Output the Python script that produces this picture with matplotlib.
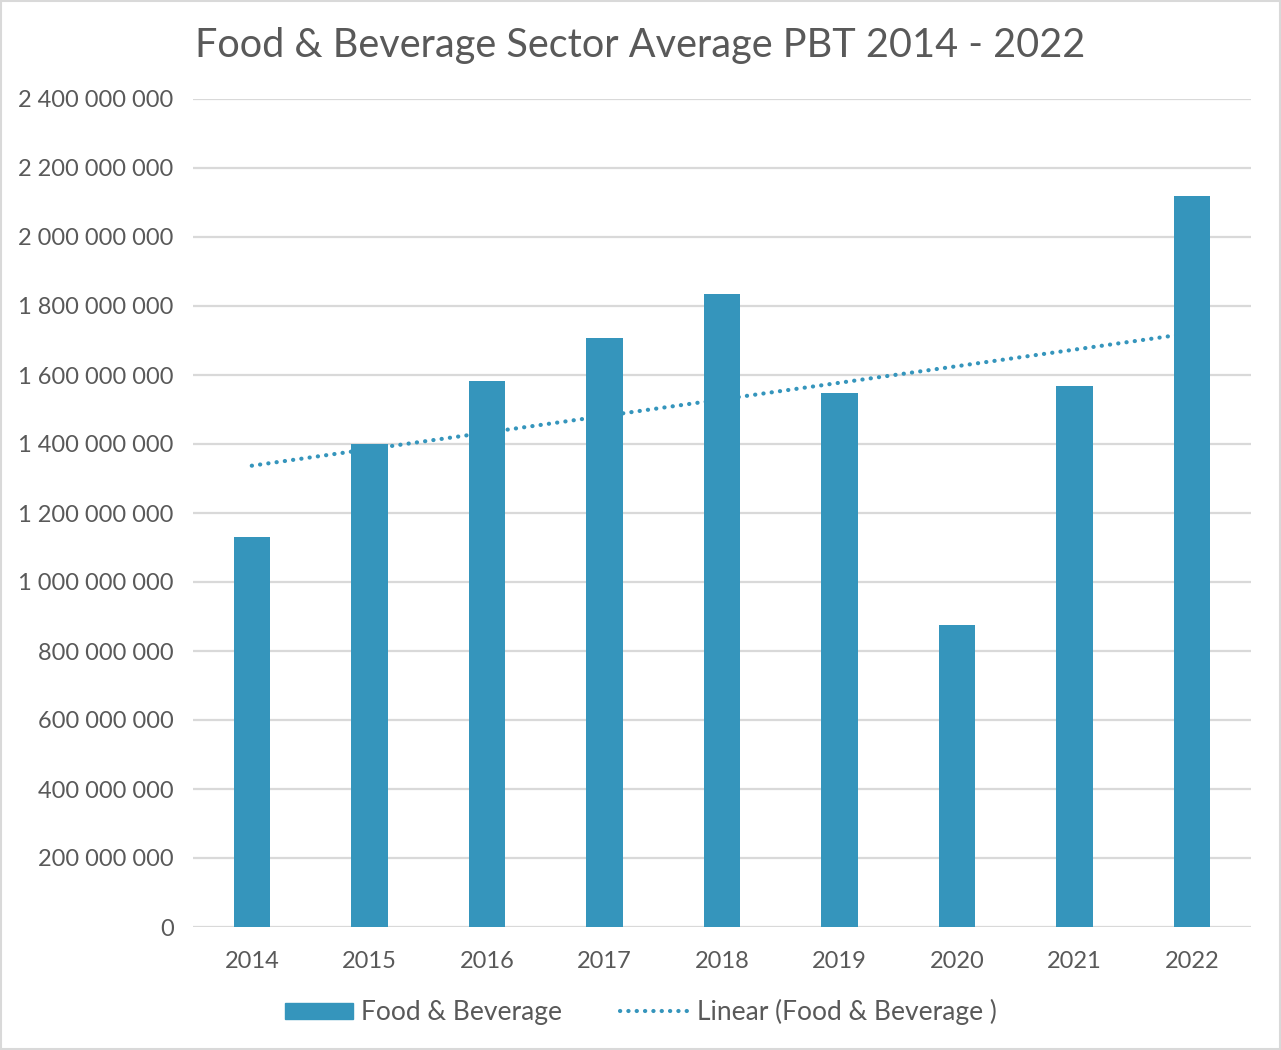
import matplotlib
matplotlib.use("Agg")
import matplotlib.pyplot as plt
from matplotlib.patches import Rectangle
from matplotlib.lines import Line2D
from matplotlib.ticker import FuncFormatter
import numpy as np

years = ["2014", "2015", "2016", "2017", "2018", "2019", "2020", "2021", "2022"]
avg_pbt = [1130000000, 1400000000, 1583000000, 1707000000, 1835000000,
           1548000000, 875000000, 1568000000, 2119000000]

bar_color = "#3595bc"
text_color = "#595959"
grid_color = "#d9d9d9"
dotted = (0, (0.05, 1.95))

plt.rcParams["font.family"] = ["Lato", "DejaVu Sans"]

fig = plt.figure(figsize=(12.81, 10.5), dpi=100)
ax = fig.add_axes([193 / 1281, 1 - 927 / 1050, (1251 - 193) / 1281, (927 - 99) / 1050])

x = np.arange(len(years))
ax.bar(x, avg_pbt, width=0.31, color=bar_color, zorder=3)

# linear trend through the yearly values
slope, intercept = np.polyfit(x, avg_pbt, 1)
ax.plot(x, slope * x + intercept, color=bar_color, linestyle=dotted,
        linewidth=3.0, dash_capstyle="round", zorder=4)

ax.set_xlim(-0.5, len(years) - 0.5)
ax.set_ylim(0, 2400000000)
ax.set_yticks(np.arange(0, 2400000001, 200000000))
ax.yaxis.set_major_formatter(FuncFormatter(lambda v, p: f"{int(v):,}".replace(",", " ")))
ax.set_xticks(x)
ax.set_xticklabels(years)

ax.grid(axis="y", color=grid_color, linewidth=1.6, zorder=0)
for s in ax.spines.values():
    s.set_visible(False)
ax.tick_params(axis="both", length=0, labelsize=17, colors=text_color)
ax.tick_params(axis="y", pad=14)
ax.tick_params(axis="x", pad=17)

fig.text(0.5, 1 - 46 / 1050, "Food & Beverage Sector Average PBT 2014 - 2022",
         ha="center", va="center", fontsize=28.5, color=text_color)

handles = [Rectangle((0, 0), 1, 1, color=bar_color),
           Line2D([], [], color=bar_color, linestyle=dotted, linewidth=3.0,
                  dash_capstyle="round")]
fig.legend(handles, ["Food & Beverage", "Linear (Food & Beverage )"],
           loc="center", bbox_to_anchor=(0.5, 1 - 1012 / 1050), ncol=2,
           frameon=False, fontsize=19, labelcolor=text_color,
           handlelength=2.6, handleheight=0.55, handletextpad=0.3, columnspacing=2.2)

fig.patches.append(Rectangle((0.001, 0.001), 0.998, 0.998, transform=fig.transFigure,
                             fill=False, edgecolor="#d9d9d9", linewidth=1.5))

fig.savefig("out.png", dpi=100)
